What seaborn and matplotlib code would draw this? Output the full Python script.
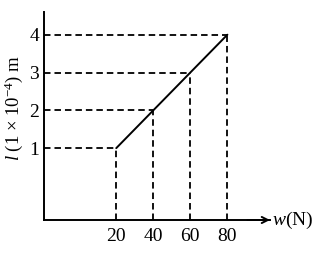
import numpy as np
import pandas as pd
import matplotlib
matplotlib.use("Agg")
import matplotlib.pyplot as plt
import seaborn as sns

# Data
w_vals = [20, 40, 60, 80]
l_vals = [1, 2, 3, 4]
x_ticks = [20, 40, 60, 80]
y_ticks = [1, 2, 3, 4]

sns.set_style("white")
plt.rcParams["font.family"] = ["Liberation Serif", "DejaVu Serif"]
plt.rcParams["mathtext.fontset"] = "custom"
plt.rcParams["mathtext.rm"] = "Liberation Serif"
plt.rcParams["mathtext.it"] = "Liberation Serif:italic"

fig = plt.figure(figsize=(3.32, 2.58), dpi=100)
ax = fig.add_axes([44/332, 38/258, 226/332, 208/258])

xlo, xhi = -19, 103
ylo, yhi = -0.9, 4.6
ax.set_xlim(xlo, xhi)
ax.set_ylim(ylo, yhi)

df = pd.DataFrame({"w": w_vals, "l": l_vals})
sns.lineplot(data=df, x="w", y="l", color="black", lw=1.4, ax=ax)

dash = (0, (3.6, 2.2))
ax.hlines(l_vals, xlo, w_vals, colors="black", linestyles=dash, lw=1.3)
ax.vlines(w_vals, ylo, l_vals, colors="black", linestyles=dash, lw=1.3)

for s in ["top", "right"]:
    ax.spines[s].set_visible(False)
for s in ["left", "bottom"]:
    ax.spines[s].set_color("black")
    ax.spines[s].set_linewidth(1.4)

ax.set_xticks(x_ticks)
ax.set_yticks(y_ticks)
ax.tick_params(axis="both", length=0, labelsize=14, colors="black")
ax.tick_params(axis="x", pad=6)
ax.tick_params(axis="y", pad=3.5)

ax.annotate("", xy=(1.0, 0), xytext=(0.9, 0), xycoords="axes fraction",
            arrowprops=dict(arrowstyle="->", lw=1.4, color="black",
                            shrinkA=0, shrinkB=0, mutation_scale=11))
ax.text(1.01, 0.0, "$w$(N)", transform=ax.transAxes, ha="left", va="center",
        fontsize=14, color="black")

ax.set_xlabel("")
ax.set_ylabel("$l$ (1 × 10$^{-4}$) m", fontsize=13.5, color="black")
ax.yaxis.set_label_coords(-0.085, 0.54)

fig.savefig("out.png", dpi=100, facecolor="white")
